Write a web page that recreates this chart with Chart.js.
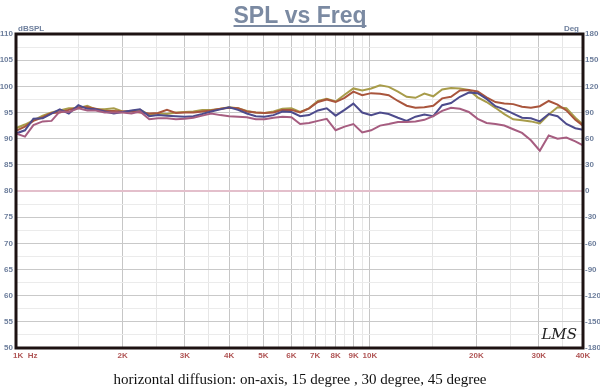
<!DOCTYPE html>
<html>
<head>
<meta charset="utf-8">
<script src="https://cdn.jsdelivr.net/npm/chart.js@4.4.1/dist/chart.umd.min.js"></script>
<style>
  html, body { margin: 0; padding: 0; background: #ffffff; }
  #wrap { width: 600px; height: 389px; position: relative; }
</style>
</head>
<body>
<div id="wrap"><canvas id="c" width="600" height="389"></canvas></div>
<script>
// ---- data ----
const freqs = [1000, 1060, 1120, 1190, 1260, 1330, 1410, 1500, 1590, 1680, 1780, 1890,
  2000, 2120, 2240, 2380, 2520, 2670, 2830, 3000, 3170, 3360, 3560, 3780,
  4000, 4240, 4490, 4760, 5040, 5340, 5660, 6000, 6350, 6730, 7130, 7550,
  8000, 8480, 8980, 9510, 10080, 10680, 11300, 12000, 12700, 13450, 14250, 15100,
  16000, 16950, 17960, 19030, 20160, 21360, 22630, 23970, 25400, 26900, 28500, 30200,
  32000, 33900, 35900, 38050, 40000];

const onAxis = [92.0, 92.7, 93.5, 94.4, 95.0, 95.4, 95.8, 95.8, 96.3, 95.6, 95.6, 95.8,
  95.2, 95.3, 95.5, 94.6, 94.8, 94.7, 95.0, 95.1, 95.2, 95.5, 95.5, 95.7,
  96.0, 95.8, 95.3, 95.0, 94.9, 95.2, 95.7, 95.8, 95.1, 95.8, 97.2, 97.6,
  97.1, 98.4, 99.6, 99.2, 99.6, 100.2, 99.9, 99.0, 98.0, 97.8, 98.6, 98.1,
  99.4, 99.7, 99.6, 99.3, 97.9, 97.0, 95.9, 94.7, 93.7, 93.5, 93.3, 92.9,
  94.6, 96.0, 95.8, 94.0, 92.7];

const deg15 = [91.5, 92.3, 93.4, 94.1, 94.9, 95.0, 95.5, 96.0, 96.0, 95.7, 95.3, 95.3,
  95.2, 95.2, 95.0, 94.8, 94.9, 95.5, 94.9, 95.0, 95.0, 95.2, 95.4, 95.7,
  95.9, 95.8, 95.2, 95.0, 94.9, 95.0, 95.5, 95.5, 95.0, 95.8, 97.0, 97.5,
  97.0, 97.8, 99.0, 98.3, 98.7, 98.6, 98.3, 97.2, 96.3, 95.9, 96.0, 96.3,
  97.7, 98.0, 99.2, 99.3, 99.0, 97.9, 97.0, 96.7, 96.6, 96.1, 95.9, 96.2,
  97.2, 96.5, 95.4, 93.6, 92.5];

const deg30 = [91.0, 91.6, 93.8, 93.9, 94.8, 95.6, 94.8, 96.4, 95.7, 95.6, 95.2, 94.8,
  95.1, 95.4, 95.6, 94.3, 94.5, 94.4, 94.3, 94.2, 94.3, 94.7, 95.2, 95.6,
  96.0, 95.5, 94.8, 94.3, 94.2, 94.5, 95.2, 95.1, 94.3, 94.5, 95.4, 95.8,
  94.4, 95.5, 96.7, 95.0, 94.5, 95.0, 94.7, 94.0, 93.4, 94.2, 94.6, 94.3,
  96.4, 96.8, 98.0, 98.8, 98.7, 97.6, 96.2, 95.6, 94.8, 94.0, 93.9, 93.3,
  94.7, 94.3, 92.8, 92.0, 91.7];

const deg45 = [91.0, 90.4, 92.6, 93.3, 93.4, 95.2, 95.1, 95.8, 95.4, 95.4, 95.0, 95.0,
  95.0, 94.8, 95.2, 93.7, 93.9, 93.9, 93.7, 93.8, 94.0, 94.4, 94.8, 94.5,
  94.3, 94.2, 94.1, 93.7, 93.7, 94.0, 94.2, 94.1, 92.8, 93.0, 93.4, 93.8,
  91.6, 92.3, 92.8, 91.2, 91.6, 92.5, 92.8, 93.2, 93.2, 93.3, 93.6, 94.3,
  95.3, 95.9, 95.7, 95.1, 93.8, 93.0, 92.8, 92.5, 91.8, 91.1, 89.7, 87.7,
  90.6, 90.0, 90.2, 89.5, 88.7];

const seriesNames = ['on-axis', '15 degree', '30 degree', '45 degree'];

const xMajorTicks = [1000, 2000, 3000, 4000, 5000, 6000, 7000, 8000, 9000, 10000, 20000, 30000, 40000];
const xMajorLabels = ['1K  Hz', '2K', '3K', '4K', '5K', '6K', '7K', '8K', '9K', '10K', '20K', '30K', '40K'];
const xMinorTicks = [1500, 2500, 3500, 4500, 5500, 6500, 7500, 8500, 9500, 15000, 25000, 35000];

const yMin = 50, yMax = 110, yStep = 2.5, yLabelStep = 5;
const degMin = -180, degMax = 180, degStep = 30;

const titleText = 'SPL vs Freq';
const captionText = 'horizontal diffusion: on-axis, 15 degree , 30 degree, 45 degree';
const yUnitLeft = 'dBSPL';
const yUnitRight = 'Deg';
const logoText = 'LMS';

// ---- styles ----
const colors = ['#a89c4a', '#a9553c', '#4d4b8c', '#a65d80'];
const labelBlue = '#6d7e9c';
const labelRed = '#b05555';
const zeroLineValue = 80;
const tickFont = { family: '"Liberation Sans", Arial, sans-serif', size: 8, weight: 'bold' };

const toPts = (vals) => freqs.map((f, i) => ({ x: f, y: vals[i] }));

const datasets = [onAxis, deg15, deg30, deg45].map((vals, i) => ({
  label: seriesNames[i],
  data: toPts(vals),
  borderColor: colors[i],
  borderWidth: 2,
  pointRadius: 0,
  tension: 0,
  fill: false,
  yAxisID: 'y'
})).reverse();

const decor = {
  id: 'decor',
  afterDraw(chart) {
    const ctx = chart.ctx;
    const a = chart.chartArea;
    ctx.save();
    // frame
    ctx.strokeStyle = '#1d1212';
    ctx.lineWidth = 3;
    ctx.strokeRect(a.left, a.top, a.right - a.left, a.bottom - a.top);

    // title
    ctx.font = 'bold 23px "Liberation Sans", Arial, sans-serif';
    ctx.fillStyle = '#7b8aa2';
    ctx.textAlign = 'center';
    ctx.textBaseline = 'alphabetic';
    const tw = ctx.measureText(titleText).width;
    ctx.fillText(titleText, 300, 23);
    ctx.fillRect(300 - tw / 2, 25, tw, 2);

    // unit labels
    ctx.font = 'bold 8px "Liberation Sans", Arial, sans-serif';
    ctx.fillStyle = labelBlue;
    ctx.textBaseline = 'middle';
    ctx.textAlign = 'left';
    ctx.fillText(yUnitLeft, 18, 29);
    ctx.textAlign = 'right';
    ctx.fillText(yUnitRight, 579, 29);

    // x tick labels
    const xs = chart.scales.x;
    ctx.font = 'bold 8px "Liberation Sans", Arial, sans-serif';
    ctx.fillStyle = labelRed;
    ctx.textBaseline = 'middle';
    xMajorTicks.forEach((v, i) => {
      const px = xs.getPixelForValue(v);
      if (i === 0) {
        ctx.textAlign = 'left';
        ctx.fillText(xMajorLabels[i], px - 3, 356);
      } else {
        ctx.textAlign = 'center';
        ctx.fillText(xMajorLabels[i], px, 356);
      }
    });

    // caption
    ctx.font = '15px "Liberation Serif", "Times New Roman", serif';
    ctx.fillStyle = '#111111';
    ctx.textAlign = 'center';
    ctx.textBaseline = 'middle';
    ctx.fillText(captionText, 300, 380);

    // logo
    ctx.font = 'italic 15px "DejaVu Serif", serif';
    ctx.fillStyle = '#222222';
    ctx.textAlign = 'right';
    ctx.fillText(logoText, 577, 335);
    ctx.restore();
  }
};

new Chart(document.getElementById('c'), {
  type: 'line',
  data: { datasets },
  options: {
    responsive: false,
    animation: false,
    devicePixelRatio: 1,
    layout: { padding: { top: 34, left: 0, right: 0, bottom: 0 } },
    plugins: { legend: { display: false }, tooltip: { enabled: false }, title: { display: false } },
    scales: {
      x: {
        type: 'logarithmic',
        min: freqs[0],
        max: freqs[freqs.length - 1],
        afterBuildTicks: (s) => {
          s.ticks = xMajorTicks.concat(xMinorTicks).sort((p, q) => p - q).map(v => ({ value: v }));
        },
        afterFit: (s) => { s.height = 41; },
        ticks: { display: false, autoSkip: false },
        grid: {
          drawTicks: false,
          color: (c) => (c.tick && xMajorTicks.includes(c.tick.value)) ? '#c6c6c6' : '#e6e6e6',
          lineWidth: 1
        },
        border: { display: false }
      },
      y: {
        type: 'linear',
        position: 'left',
        min: yMin,
        max: yMax,
        afterFit: (s) => { s.width = 16; },
        ticks: {
          stepSize: yStep,
          autoSkip: false,
          padding: 3,
          color: labelBlue,
          font: tickFont,
          callback: (v) => (v % yLabelStep === 0 ? String(v) : '')
        },
        grid: {
          drawTicks: false,
          color: (c) => {
            const v = c.tick ? c.tick.value : 0;
            if (v === zeroLineValue) return '#e3bfcb';
            return v % yLabelStep === 0 ? '#c9c9c9' : '#ebebeb';
          },
          lineWidth: (c) => (c.tick && c.tick.value === zeroLineValue ? 2 : 1)
        },
        border: { display: false }
      },
      y2: {
        type: 'linear',
        position: 'right',
        min: degMin,
        max: degMax,
        afterFit: (s) => { s.width = 17; },
        ticks: {
          stepSize: degStep,
          autoSkip: false,
          padding: 2,
          color: labelBlue,
          font: tickFont
        },
        grid: { display: false, drawTicks: false },
        border: { display: false }
      }
    }
  },
  plugins: [decor]
});
</script>
</body>
</html>
